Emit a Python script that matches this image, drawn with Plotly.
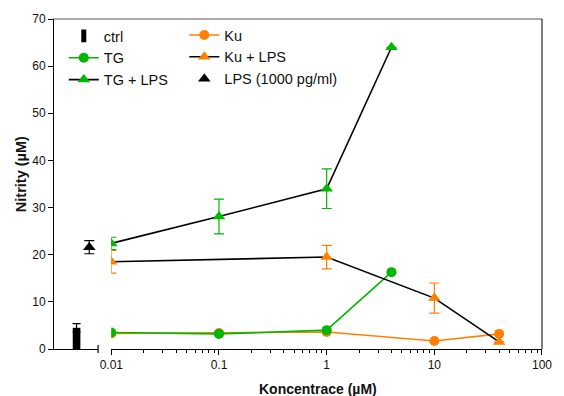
import plotly.graph_objects as go

# Concentrations (µM) for the treated series
conc_tg = [0.01, 0.1, 1, 4]
conc_ku = [0.01, 0.1, 1, 10, 40]
conc_tg_lps = [0.01, 0.1, 1, 4]
conc_ku_lps = [0.01, 1, 10, 40]

# Nitrite levels (µM)
tg = [3.5, 3.2, 4.0, 16.3]
ku = [3.3, 3.4, 3.6, 1.7, 3.2]
tg_lps = [22.4, 28.1, 34.0, 64.0]
tg_lps_err = [1.3, 3.7, 4.2, 0.0]
ku_lps = [18.5, 19.5, 10.8, 1.5]
ku_lps_err = [2.4, 2.5, 3.2, 0.0]

# Reference groups drawn on the broken left segment
ctrl = [4.5]
ctrl_err = [0.9]
lps = [21.6]
lps_err_plus = [1.4]
lps_err_minus = [1.4]

x_tickvals = [0.01, 0.1, 1, 10, 100]
x_ticktext = ["0.01", "0.1", "1", "10", "100"]
x_minor = [m * 10.0 ** e for e in range(-2, 2) for m in range(2, 10)]
y_tickvals = [0, 10, 20, 30, 40, 50, 60, 70]

GREEN = "#00B800"
ORANGE = "#FF8000"
FONT = "Arial, Liberation Sans, sans-serif"

fig = go.Figure()

# ctrl bar (left segment)
fig.add_trace(go.Bar(
    x=[0], y=ctrl, xaxis="x2", yaxis="y", width=0.6,
    marker=dict(color="black", line=dict(width=0)),
    error_y=dict(type="data", array=ctrl_err, color="black", thickness=1.2, width=4),
    showlegend=False,
))
# legend entry for ctrl (narrow bar glyph)
fig.add_trace(go.Scatter(
    x=[None], y=[None], mode="markers", name="ctrl",
    marker=dict(symbol="line-ns", size=9, line=dict(width=6, color="black"), color="black"),
    legend="legend", legendrank=1,
))

# LPS alone
fig.add_trace(go.Scatter(
    x=[1], y=lps, xaxis="x2", yaxis="y", mode="markers", name="LPS (1000 pg/ml)",
    marker=dict(symbol="triangle-up", size=11, color="black"),
    error_y=dict(type="data", array=lps_err_plus, arrayminus=lps_err_minus,
                 color="black", thickness=1.2, width=5),
    legend="legend2", legendrank=3,
))

# Ku
fig.add_trace(go.Scatter(
    x=conc_ku, y=ku, mode="lines+markers", name="Ku",
    line=dict(color=ORANGE, width=1.6),
    marker=dict(symbol="circle", size=10, color=ORANGE),
    legend="legend2", legendrank=1,
))
# TG
fig.add_trace(go.Scatter(
    x=conc_tg, y=tg, mode="lines+markers", name="TG",
    line=dict(color=GREEN, width=1.6),
    marker=dict(symbol="circle", size=10, color=GREEN),
    legend="legend", legendrank=2,
))
# Ku + LPS
fig.add_trace(go.Scatter(
    x=conc_ku_lps, y=ku_lps, mode="lines+markers", name="Ku + LPS",
    line=dict(color="black", width=1.6),
    marker=dict(symbol="triangle-up", size=11, color=ORANGE),
    error_y=dict(type="data", array=ku_lps_err, color=ORANGE, thickness=1.2, width=5),
    legend="legend2", legendrank=2,
))
# TG + LPS
fig.add_trace(go.Scatter(
    x=conc_tg_lps, y=tg_lps, mode="lines+markers", name="TG + LPS",
    line=dict(color="black", width=1.6),
    marker=dict(symbol="triangle-up", size=11, color=GREEN),
    error_y=dict(type="data", array=tg_lps_err, color=GREEN, thickness=1.2, width=5),
    legend="legend", legendrank=3,
))

L, R, T, B = 53, 12, 18, 47
W, H = 564, 396
pw = W - L - R
ph = H - T - B
seg_end = (99 - L) / pw
log_start = (112.5 - L) / pw

fig.update_layout(
    width=W, height=H,
    margin=dict(l=L, r=R, t=T, b=B),
    paper_bgcolor="white", plot_bgcolor="white",
    font=dict(family=FONT, size=12, color="#111"),
    barmode="overlay",
    xaxis=dict(
        type="log", range=[-2, 2], domain=[log_start, 1],
        tickvals=x_tickvals, ticktext=x_ticktext,
        showline=True, linecolor="black", linewidth=1,
        ticks="outside", ticklen=5, tickcolor="black", tickwidth=1,
        minor=dict(tickvals=x_minor, ticks="outside", ticklen=3, tickcolor="black",
                   tickwidth=1, showgrid=False),
        showgrid=False, zeroline=False,
        tickfont=dict(size=12, color="#111"),
    ),
    xaxis2=dict(
        range=[-1.85, 1.69], domain=[0, seg_end], anchor="y",
        showline=True, linecolor="black", linewidth=1,
        showticklabels=False, ticks="", showgrid=False, zeroline=False,
    ),
    yaxis=dict(
        range=[0, 70], tickvals=y_tickvals, anchor="free", position=0,
        showline=True, linecolor="black", linewidth=1,
        ticks="outside", ticklen=5, tickcolor="black", tickwidth=1,
        showgrid=False, zeroline=False,
        tickfont=dict(size=12, color="#111"),
    ),
    legend=dict(
        x=(64 - L) / pw, y=1 - (19 - T) / ph, xanchor="left", yanchor="top",
        bgcolor="rgba(0,0,0,0)", font=dict(size=14.5, color="#111"),
        tracegroupgap=0, itemwidth=30,
    ),
    legend2=dict(
        x=(187 - L) / pw, y=1 - (18 - T) / ph, xanchor="left", yanchor="top",
        bgcolor="rgba(0,0,0,0)", font=dict(size=14.5, color="#111"),
        tracegroupgap=0, itemwidth=30,
    ),
    shapes=[
        # top and right frame lines
        dict(type="line", xref="paper", yref="paper", x0=0, x1=1, y0=1, y1=1,
             line=dict(color="#555", width=1)),
        dict(type="line", xref="paper", yref="paper", x0=1, x1=1, y0=0, y1=1,
             line=dict(color="black", width=1)),
        # break mark closing the left segment
        dict(type="line", xref="paper", yref="paper", x0=seg_end, x1=seg_end,
             y0=-4 / ph, y1=4 / ph, line=dict(color="black", width=1.2)),
    ],
    annotations=[
        dict(text="<b>Nitrity (µM)</b>", textangle=-90, xref="paper", yref="paper",
             x=(20 - L) / pw, y=1 - (174 - T) / ph, xanchor="center", yanchor="middle",
             showarrow=False, font=dict(size=14.5, color="#111")),
        dict(text="<b>Koncentrace (µM)</b>", xref="paper", yref="paper",
             x=(323 - L) / pw, y=-(389 - T - ph) / ph, xanchor="center", yanchor="middle",
             showarrow=False, font=dict(size=14, color="#111")),
    ],
)

fig.write_html("out.html")
